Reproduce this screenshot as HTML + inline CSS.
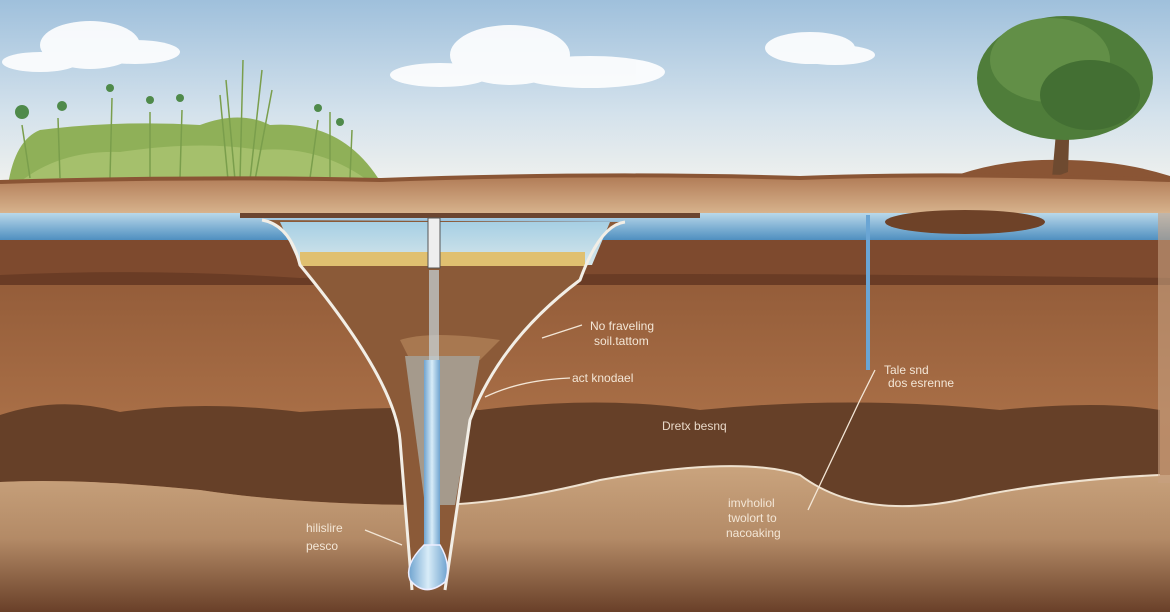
<!DOCTYPE html>
<html><head><meta charset="utf-8"><style>html,body{margin:0;padding:0;overflow:hidden}svg{display:block}</style></head><body>
<svg width="1170" height="612" viewBox="0 0 1170 612" xmlns="http://www.w3.org/2000/svg" font-family="Liberation Sans, sans-serif">
<defs>
<linearGradient id="sky" x1="0" y1="0" x2="0" y2="1"><stop offset="0" stop-color="#9fc0dc"/><stop offset="0.6" stop-color="#d4e2ec"/><stop offset="1" stop-color="#f2f2ee"/></linearGradient>
<linearGradient id="surf" x1="0" y1="0" x2="0" y2="1"><stop offset="0" stop-color="#b07a55"/><stop offset="1" stop-color="#d9b58f"/></linearGradient>
<linearGradient id="water" x1="0" y1="0" x2="0" y2="1"><stop offset="0" stop-color="#b9d8ea"/><stop offset="1" stop-color="#4f8fc0"/></linearGradient>
<linearGradient id="main" x1="0" y1="0" x2="0" y2="1"><stop offset="0" stop-color="#8a5433"/><stop offset="0.5" stop-color="#a86e46"/><stop offset="1" stop-color="#9a6440"/></linearGradient>
<linearGradient id="low" x1="0" y1="0" x2="0" y2="1"><stop offset="0" stop-color="#caa47e"/><stop offset="0.5" stop-color="#b38a66"/><stop offset="1" stop-color="#6a4029"/></linearGradient>
<linearGradient id="inner" x1="0" y1="0" x2="0" y2="1"><stop offset="0" stop-color="#a6cfe4"/><stop offset="1" stop-color="#d6e6ea"/></linearGradient>
<linearGradient id="tube" x1="0" y1="0" x2="1" y2="0"><stop offset="0" stop-color="#6fa3cf"/><stop offset="0.5" stop-color="#d8ecf8"/><stop offset="1" stop-color="#6fa3cf"/></linearGradient>
</defs>
<rect width="1170" height="190" fill="url(#sky)"/>
<g fill="#fff" opacity="0.9">
<ellipse cx="90" cy="45" rx="50" ry="24"/><ellipse cx="135" cy="52" rx="45" ry="12"/><ellipse cx="40" cy="62" rx="38" ry="10"/>
<ellipse cx="510" cy="55" rx="60" ry="30"/><ellipse cx="590" cy="72" rx="75" ry="16"/><ellipse cx="440" cy="75" rx="50" ry="12"/>
<ellipse cx="810" cy="48" rx="45" ry="16"/><ellipse cx="835" cy="55" rx="40" ry="10"/>
</g>
<!-- grass -->
<path d="M8 185 Q15 140 40 130 Q120 120 200 125 Q240 110 270 125 Q340 120 378 178 L378 185 Z" fill="#8fb058"/>
<path d="M20 182 Q60 150 120 152 Q200 140 260 150 Q320 145 370 182 Z" fill="#a5c06c"/>
<g stroke="#7a9e4c" stroke-width="1.5" fill="none">
<path d="M240 180 L243 60"/><path d="M250 180 L262 70"/><path d="M235 180 L226 80"/><path d="M255 180 L272 90"/><path d="M228 180 L220 95"/>
<path d="M30 178 L22 125"/><path d="M60 178 L58 118"/><path d="M110 178 L112 98"/><path d="M150 178 L150 112"/><path d="M180 178 L182 110"/><path d="M330 178 L330 112"/><path d="M310 178 L318 120"/><path d="M350 178 L352 130"/>
</g>
<g fill="#4f8a4a"><circle cx="22" cy="112" r="7"/><circle cx="62" cy="106" r="5"/><circle cx="110" cy="88" r="4"/><circle cx="150" cy="100" r="4"/><circle cx="180" cy="98" r="4"/><circle cx="318" cy="108" r="4"/><circle cx="340" cy="122" r="4"/></g>
<!-- tree -->
<path d="M930 186 Q990 158 1060 160 Q1120 160 1170 176 L1170 190 Z" fill="#8a5535"/>
<path d="M1052 178 L1058 110 L1070 110 L1068 172 Z" fill="#6e4a30"/>
<ellipse cx="1065" cy="78" rx="88" ry="62" fill="#4f7d3a"/>
<ellipse cx="1050" cy="60" rx="60" ry="42" fill="#628f47"/>
<ellipse cx="1090" cy="95" rx="50" ry="35" fill="#436f33"/>
<!-- surface -->
<path d="M0 182 Q200 176 380 180 Q600 172 800 178 Q950 172 1170 180 L1170 215 L0 215 Z" fill="url(#surf)"/>
<path d="M0 182 Q200 176 380 180 Q600 172 800 178 Q950 172 1170 180" stroke="#8a5535" stroke-width="4" fill="none"/>
<!-- underground -->
<rect x="0" y="213" width="1170" height="400" fill="url(#main)"/>
<rect x="0" y="238" width="1170" height="42" fill="#7e4a2e"/>
<path d="M0 275 Q150 268 300 278 Q600 270 1170 278 L1170 285 L0 285Z" fill="#6a3c25"/>
<rect x="0" y="213" width="1170" height="27" fill="url(#water)"/>
<path d="M0 415 Q60 395 120 412 Q200 400 300 412 Q400 405 480 410 Q600 395 700 410 Q850 395 1000 410 Q1100 400 1160 410 L1160 475 Q1050 480 960 500 Q860 520 800 475 Q740 455 600 480 Q500 505 430 505 Q300 505 200 490 Q80 478 0 482 Z" fill="#664028"/>
<path d="M0 482 Q80 478 200 490 Q300 505 430 505 Q500 505 600 480 Q740 455 800 475 Q860 520 960 500 Q1050 480 1160 475 L1170 475 L1170 612 L0 612Z" fill="url(#low)"/>
<path d="M430 505 Q500 505 600 480 Q740 455 800 475 Q860 520 960 500 Q1050 480 1160 475" stroke="#efe2d0" stroke-width="2" fill="none"/>
<rect x="1158" y="213" width="12" height="270" fill="#c6a080" opacity="0.6"/>
<!-- funnel -->
<path d="M262 220 Q290 225 300 265 Q395 380 400 440 L412 590 L445 590 L470 420 Q500 340 580 280 Q600 225 625 222 Z" fill="#8b5a38"/>
<path d="M280 222 L610 222 L592 265 L300 265 Z" fill="url(#inner)"/>
<rect x="300" y="252" width="285" height="14" fill="#e0c070"/>
<path d="M400 340 Q430 330 500 340 L480 360 L410 360Z" fill="#a87850"/>
<path d="M405 356 L480 356 L455 505 L425 505 Z" fill="#a59a8c"/>
<path d="M262 220 Q290 225 300 265 Q395 380 400 440 L412 590 M625 222 Q600 225 580 280 Q500 340 470 420 L445 590" stroke="#f2eee6" stroke-width="3" fill="none"/>
<rect x="240" y="213" width="460" height="5" fill="#6b4530"/>
<rect x="428" y="218" width="12" height="50" fill="#eee" stroke="#555" stroke-width="1"/>
<rect x="429" y="270" width="10" height="90" fill="#c8d4dc" opacity="0.7"/>
<rect x="424" y="360" width="16" height="190" fill="url(#tube)"/>
<path d="M424 545 Q404 565 410 580 Q425 598 445 582 Q452 565 440 545Z" fill="url(#tube)" stroke="#eef" stroke-width="1.5"/>
<!-- right features -->
<rect x="866" y="215" width="4" height="155" fill="#6aa5d4"/>
<ellipse cx="965" cy="222" rx="80" ry="12" fill="#6e4228"/>
<!-- labels -->
<g fill="#f3e6d6" font-size="12">
<text x="590" y="330">No fraveling</text><text x="594" y="345">soil.tattom</text>
<text x="572" y="382">act knodael</text>
<text x="884" y="374">Tale snd</text><text x="888" y="387">dos esrenne</text>
<text x="662" y="430" fill="#e8d8c8">Dretx besnq</text>
<text x="728" y="507">imvholiol</text><text x="728" y="522">twolort to</text><text x="726" y="537">nacoaking</text>
<text x="306" y="532">hilislire</text><text x="306" y="550">pesco</text>
</g>
<g stroke="#f3e6d6" stroke-width="1.3" fill="none">
<path d="M582 325 L542 338"/><path d="M570 378 Q520 380 485 397"/><path d="M875 370 L860 400 L808 510"/><path d="M365 530 Q390 540 402 545"/>
</g>
</svg>
</body></html>
